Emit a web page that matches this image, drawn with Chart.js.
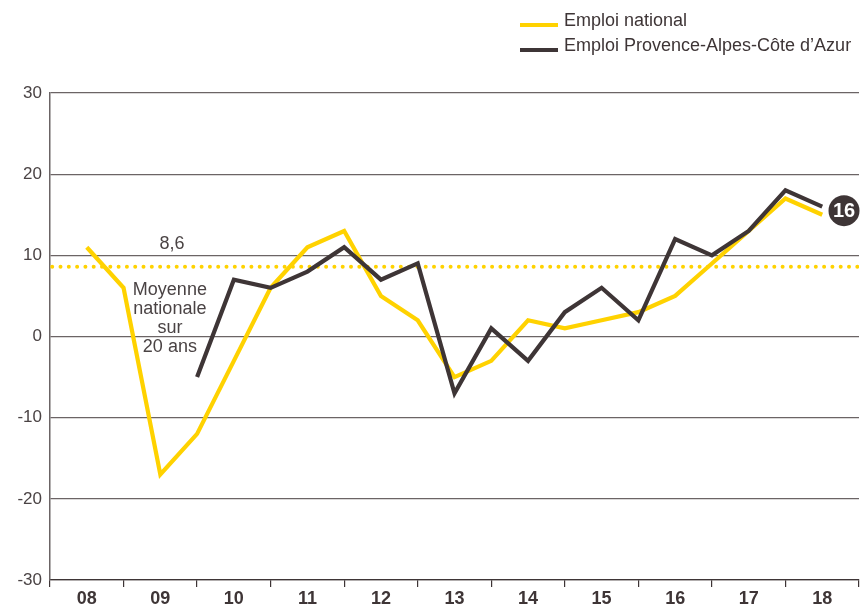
<!DOCTYPE html>
<html lang="fr">
<head>
<meta charset="utf-8">
<script src="https://cdn.jsdelivr.net/npm/chart.js@4"></script>
<style>
  html, body { margin: 0; padding: 0; background: #fff; }
  #wrap { position: relative; width: 861px; height: 605px; }
</style>
</head>
<body>
<div id="wrap"><canvas id="chart" width="861" height="605"></canvas></div>
<script>
// années (axe des x) et valeurs semestrielles (mi-année puis fin d'année)
const years = ['08', '09', '10', '11', '12', '13', '14', '15', '16', '17', '18'];
const emploiNational = [11, 6, -17, -12, -3, 6, 11, 13, 5, 2, -5, -3, 2, 1, 2, 3, 5, 9, 13, 17, 15];
const emploiPaca = [null, null, null, -5, 7, 6, 8, 11, 7, 9, -7, 1, -3, 3, 6, 2, 12, 10, 13, 18, 16];
const moyenne = 8.6;
const yTicks = [30, 20, 10, 0, -10, -20, -30];

const YELLOW = '#FFD200';
const DARK = '#3E3536';
const TEXT = '#4a4344';
const FONT = '"Liberation Sans", Arial, sans-serif';

const toPoints = arr => arr.map((v, i) => ({ x: 0.5 + i * 0.5, y: v }));

const annotations = {
  id: 'annotations',
  afterDatasetsDraw(chart) {
    const { ctx, scales } = chart;
    const x = scales.x, y = scales.y;
    ctx.save();

    // moyenne
    ctx.fillStyle = TEXT;
    ctx.font = '18px ' + FONT;
    ctx.textAlign = 'center';
    ctx.textBaseline = 'middle';
    ctx.fillText(moyenne.toString().replace('.', ','), x.getPixelForValue(1.66), y.getPixelForValue(moyenne) - 23);
    ['Moyenne', 'nationale', 'sur', '20 ans'].forEach((t, i) => {
      ctx.fillText(t, x.getPixelForValue(1.63), 290 + i * 19);
    });

    // pastille dernière valeur
    const last = emploiPaca[emploiPaca.length - 1];
    const cx = x.getPixelForValue(11) - 15;
    const cy = y.getPixelForValue(last) + 4;
    ctx.fillStyle = DARK;
    ctx.beginPath();
    ctx.arc(cx, cy, 15.5, 0, Math.PI * 2);
    ctx.fill();
    ctx.fillStyle = '#fff';
    ctx.font = 'bold 20px ' + FONT;
    ctx.fillText(String(last), cx, cy + 1);

    // légende
    ctx.lineWidth = 4;
    ctx.lineCap = 'butt';
    const items = [
      { label: 'Emploi national', color: YELLOW, ly: 25, ty: 21 },
      { label: 'Emploi Provence-Alpes-Côte d\u2019Azur', color: DARK, ly: 50, ty: 46 },
    ];
    ctx.textAlign = 'left';
    ctx.font = '18px ' + FONT;
    items.forEach(it => {
      ctx.strokeStyle = it.color;
      ctx.beginPath();
      ctx.moveTo(520, it.ly);
      ctx.lineTo(558, it.ly);
      ctx.stroke();
      ctx.fillStyle = DARK;
      ctx.fillText(it.label, 564, it.ty);
    });
    ctx.restore();
  }
};

new Chart(document.getElementById('chart'), {
  type: 'line',
  data: {
    labels: years,
    datasets: [
      {
        label: 'Emploi Provence-Alpes-Côte d\u2019Azur',
        data: toPoints(emploiPaca),
        borderColor: DARK,
        borderWidth: 4.2,
        pointRadius: 0,
        tension: 0,
        spanGaps: false,
        order: 0,
      },
      {
        label: 'Emploi national',
        data: toPoints(emploiNational),
        borderColor: YELLOW,
        borderWidth: 4.2,
        pointRadius: 0,
        tension: 0,
        order: 1,
      },
      {
        label: 'Moyenne nationale sur 20 ans',
        data: [{ x: 0.03, y: moyenne }, { x: 11, y: moyenne }],
        borderColor: YELLOW,
        borderWidth: 4,
        borderDash: [0, 8.3],
        borderCapStyle: 'round',
        pointRadius: 0,
        order: 2,
      },
    ],
  },
  options: {
    responsive: false,
    animation: false,
    layout: { padding: { top: 93, right: 2, left: 0, bottom: 0 } },
    plugins: {
      legend: { display: false },
      tooltip: { enabled: false },
    },
    scales: {
      x: {
        type: 'linear',
        display: false,
        min: 0,
        max: 11,
      },
      years: {
        type: 'category',
        position: 'bottom',
        labels: years,
        offset: true,
        grid: {
          offset: true,
          drawOnChartArea: false,
          tickLength: 7,
          color: DARK,
          lineWidth: 1.2,
        },
        border: { display: true, color: DARK, width: 1.2 },
        ticks: {
          color: DARK,
          font: { family: FONT, size: 18, weight: 'bold' },
          padding: 1,
          maxRotation: 0,
          autoSkip: false,
        },
        afterFit: s => { s.height = 25; },
      },
      y: {
        min: -30,
        max: 30,
        afterBuildTicks: s => { s.ticks = yTicks.map(v => ({ value: v })); },
        grid: { color: '#6b6465', lineWidth: 1.2, drawTicks: false },
        border: { display: true, color: '#6b6465', width: 1.5 },
        ticks: {
          color: TEXT,
          padding: 8,
          font: { family: FONT, size: 17 },
        },
        afterFit: s => { s.width = 50; },
      },
    },
  },
  plugins: [annotations],
});
</script>
</body>
</html>
